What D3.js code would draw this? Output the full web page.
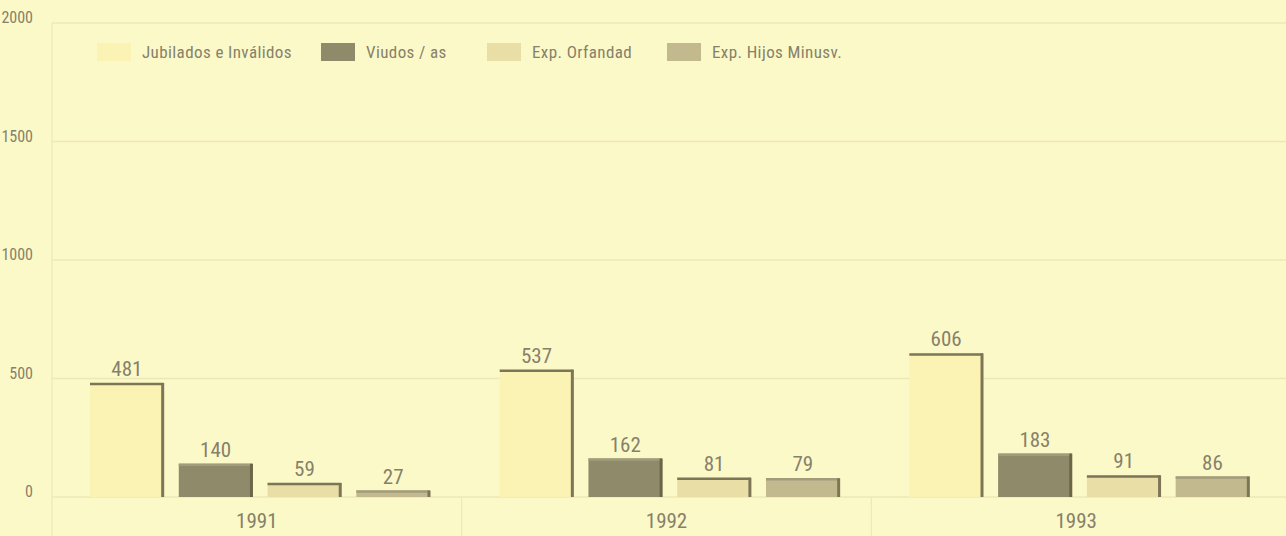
<!DOCTYPE html>
<html><head><meta charset="utf-8">
<script src="https://cdn.jsdelivr.net/npm/d3@7/dist/d3.min.js"></script>
<style>
html,body{margin:0;padding:0;background:#fcf9c8;}
svg{display:block;}
text{font-family:"Liberation Sans Narrow","Roboto Condensed","Liberation Sans",sans-serif;fill:#86816a;}
</style></head>
<body>
<svg id="chart" width="1286" height="536"></svg>
<script>
const years = ["1991","1992","1993"];
const seriesNames = ["Jubilados e Inválidos","Viudos / as","Exp. Orfandad","Exp. Hijos Minusv."];
const jubilados = [481, 537, 606];
const viudos = [140, 162, 183];
const orfandad = [59, 81, 91];
const hijos = [27, 79, 86];
const yTicks = [0, 500, 1000, 1500, 2000];

const seriesValues = [jubilados, viudos, orfandad, hijos];
const fills = ["#fbf3b4", "#8f8a69", "#e8dea6", "#c2b98f"];
const topEdge = ["#7c7556", "#a29c7b", "#7c7556", "#a29c7b"];
const rightEdge = ["#7c7556", "#6c6649", "#7c7556", "#7c7556"];

const W = 1286, H = 536;
const svg = d3.select("#chart");
svg.append("rect").attr("width", W).attr("height", H).attr("fill", "#fcf9c8");

const y = d3.scaleLinear().domain([0, 2000]).range([497, 23]);
const x0 = d3.scaleBand().domain(years).range([52, 1281]).padding(0);
const x1 = d3.scaleBand().domain(d3.range(seriesNames.length)).range([38, 378]).paddingInner(0.17);

// gridlines
svg.append("g").selectAll("line").data(yTicks).join("line")
  .attr("x1", 52).attr("x2", W).attr("y1", d => y(d)).attr("y2", d => y(d))
  .attr("stroke", "#ece8b6").attr("stroke-width", 1.5);
// y axis line
svg.append("line").attr("x1", 52).attr("x2", 52).attr("y1", y(2000)).attr("y2", H)
  .attr("stroke", "#ece8b8").attr("stroke-width", 1.2);
// y tick labels
svg.append("g").selectAll("text").data(yTicks).join("text")
  .attr("x", 33).attr("y", d => y(d)).attr("text-anchor", "end")
  .attr("font-size", 16).text(d => d);

// category separators in the bottom band
svg.append("g").selectAll("line").data(years.slice(1)).join("line")
  .attr("x1", d => x0(d)).attr("x2", d => x0(d)).attr("y1", y(0)).attr("y2", H)
  .attr("stroke", "#ece8b8").attr("stroke-width", 1.2);
// year labels
svg.append("g").selectAll("text").data(years).join("text")
  .attr("x", d => x0(d) + x0.bandwidth() / 2).attr("y", 528).attr("text-anchor", "middle")
  .attr("font-size", 21).text(d => d);

// bars
const data = [];
years.forEach((yr, i) => seriesValues.forEach((vals, s) => data.push({yr, s, v: vals[i]})));
const bars = svg.append("g").selectAll("g").data(data).join("g")
  .attr("transform", d => `translate(${x0(d.yr) + x1(d.s)},0)`);
const bw = x1.bandwidth();
bars.append("rect")
  .attr("x", 0).attr("y", d => y(d.v)).attr("width", bw).attr("height", d => y(0) - y(d.v))
  .attr("fill", d => fills[d.s]);
bars.append("line")
  .attr("x1", 0).attr("x2", bw).attr("y1", d => y(d.v) + 1).attr("y2", d => y(d.v) + 1)
  .attr("stroke", d => topEdge[d.s]).attr("stroke-width", 2.5);
bars.append("line")
  .attr("x1", bw - 1).attr("x2", bw - 1).attr("y1", d => y(d.v)).attr("y2", y(0))
  .attr("stroke", d => rightEdge[d.s]).attr("stroke-width", 3);
bars.append("text")
  .attr("x", bw / 2).attr("y", d => y(d.v) - 7).attr("text-anchor", "middle")
  .attr("font-size", 21).text(d => d.v);

// legend
const legendX = [97, 321, 487, 667];
const lg = svg.append("g").selectAll("g").data(seriesNames).join("g")
  .attr("transform", (d, i) => `translate(${legendX[i]},43)`);
lg.append("rect").attr("width", 34).attr("height", 18).attr("fill", (d, i) => fills[i]);
lg.append("text").attr("x", 45).attr("y", 15).attr("font-size", 17)
  .attr("letter-spacing", 0.4).text(d => d);
</script>
</body></html>
